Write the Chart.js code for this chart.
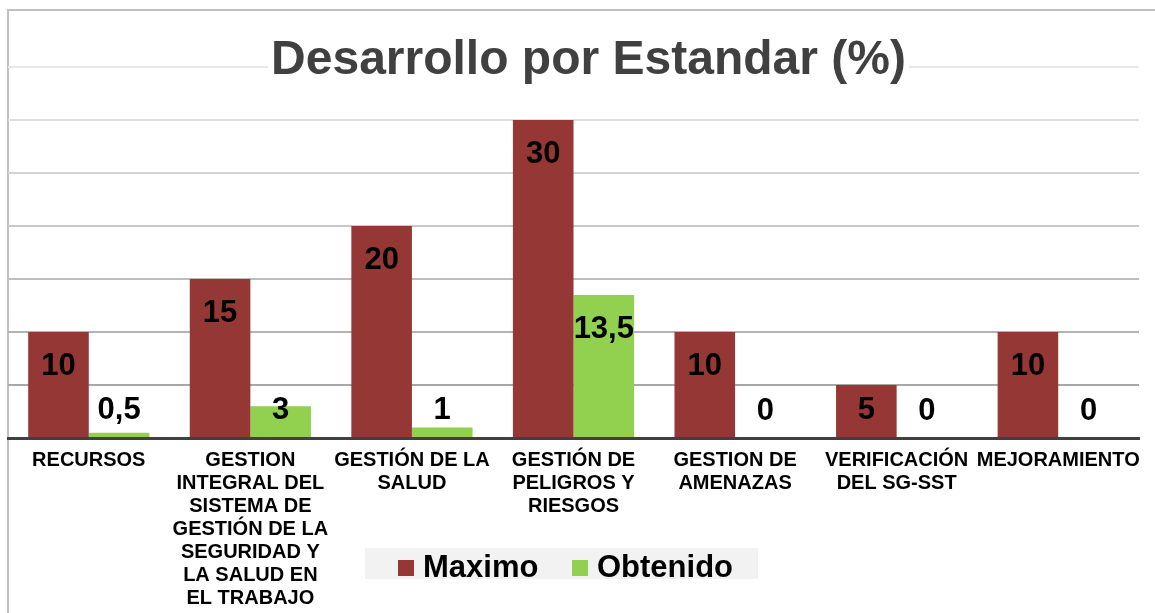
<!DOCTYPE html>
<html>
<head>
<meta charset="utf-8">
<script src="https://cdn.jsdelivr.net/npm/chart.js@4.4.1/dist/chart.umd.min.js"></script>
<style>
html,body{margin:0;padding:0;background:#fff;}
#wrap{width:1155px;height:613px;position:relative;}
</style>
</head>
<body>
<div id="wrap"><canvas id="c" width="1155" height="613"></canvas></div>
<script>
const categories = [
  ["RECURSOS"],
  ["GESTION","INTEGRAL DEL","SISTEMA DE","GESTIÓN DE LA","SEGURIDAD Y","LA SALUD EN","EL TRABAJO"],
  ["GESTIÓN DE LA","SALUD"],
  ["GESTIÓN DE","PELIGROS Y","RIESGOS"],
  ["GESTION DE","AMENAZAS"],
  ["VERIFICACIÓN","DEL SG-SST"],
  ["MEJORAMIENTO"]
];
const maximo = [10, 15, 20, 30, 10, 5, 10];
const obtenido = [0.5, 3, 1, 13.5, 0, 0, 0];
const seriesNames = ["Maximo", "Obtenido"];
const titleText = "Desarrollo por Estandar (%)";

const FONT = "'Liberation Sans', Arial, sans-serif";
const RED = "#953735";
const GREEN = "#92D050";

function fmt(v){ return String(v).replace('.', ','); }

const framePlugin = {
  id: 'frame',
  beforeDraw(chart){
    const ctx = chart.ctx;
    ctx.save();
    ctx.fillStyle = '#fff';
    ctx.fillRect(0,0,chart.width,chart.height);
    ctx.strokeStyle = '#c0c0c0';
    ctx.lineWidth = 2;
    ctx.beginPath();
    ctx.moveTo(8, 613);
    ctx.lineTo(8, 10);
    ctx.lineTo(1155, 10);
    ctx.stroke();
    ctx.restore();
  }
};

const labelsPlugin = {
  id: 'vlabels',
  afterDatasetsDraw(chart){
    const ctx = chart.ctx;
    ctx.save();
    ctx.font = "bold 31px " + FONT;
    ctx.fillStyle = '#000';
    ctx.textAlign = 'center';
    ctx.textBaseline = 'alphabetic';
    chart.data.datasets.forEach((ds, di) => {
      const meta = chart.getDatasetMeta(di);
      meta.data.forEach((el, i) => {
        const y = Math.min(el.y + 43, el.base - 18);
        ctx.fillText(fmt(ds.data[i]), el.x, y);
      });
    });
    ctx.restore();
  },
  afterDraw(chart){
    const ctx = chart.ctx;
    ctx.save();
    // title
    ctx.font = "bold 48px " + FONT;
    const tw = ctx.measureText(titleText).width;
    const cx = 588.5;
    ctx.fillStyle = '#fff';
    ctx.fillRect(cx - tw/2 - 3, 38, tw + 6, 44);
    ctx.fillStyle = '#404040';
    ctx.textAlign = 'center';
    ctx.textBaseline = 'alphabetic';
    ctx.fillText(titleText, cx, 74);
    // legend
    ctx.fillStyle = '#f2f2f2';
    ctx.fillRect(365, 548, 393, 31);
    const items = [{x:398, tx:423}, {x:572, tx:597}];
    ctx.font = "bold 31px " + FONT;
    ctx.textAlign = 'left';
    chart.data.datasets.forEach((ds, di) => {
      const it = items[di];
      ctx.fillStyle = ds.backgroundColor;
      ctx.fillRect(it.x, 560, 16, 16);
      ctx.fillStyle = '#000';
      ctx.fillText(ds.label, it.tx, 577);
    });
    ctx.restore();
  }
};

new Chart(document.getElementById('c'), {
  type: 'bar',
  data: {
    labels: categories,
    datasets: [
      {label: seriesNames[0], data: maximo, backgroundColor: RED, borderWidth: 0},
      {label: seriesNames[1], data: obtenido, backgroundColor: GREEN, borderWidth: 0}
    ]
  },
  options: {
    responsive: false,
    animation: false,
    devicePixelRatio: 1,
    layout: {padding: {left: 8, right: 16, top: 67, bottom: 0}},
    plugins: {
      legend: {display: false},
      title: {display: false},
      tooltip: {enabled: false}
    },
    datasets: {bar: {categoryPercentage: 0.75, barPercentage: 1.0}},
    scales: {
      x: {
        grid: {display: false, drawTicks: false},
        border: {display: true, color: '#404040', width: 3},
        ticks: {
          color: '#000',
          font: {family: FONT, size: 20, weight: 'bold', lineHeight: 1.15},
          padding: 11,
          autoSkip: false,
          maxRotation: 0,
          minRotation: 0
        },
        afterFit(scale){ scale.height = 613 - 438; }
      },
      y: {
        min: 0, max: 35,
        ticks: {display: false, stepSize: 5},
        border: {display: false},
        grid: {
          drawTicks: false,
          lineWidth: 2,
          color(ctx){
            const v = ctx.tick ? ctx.tick.value : 0;
            if (v === 0) return 'rgba(0,0,0,0)';
            const g = Math.round(232 - (35 - v) / 30 * (232 - 168));
            return `rgb(${g},${g},${g})`;
          }
        },
        afterFit(scale){ scale.width = 0; }
      }
    }
  },
  plugins: [framePlugin, labelsPlugin]
});
</script>
</body>
</html>
